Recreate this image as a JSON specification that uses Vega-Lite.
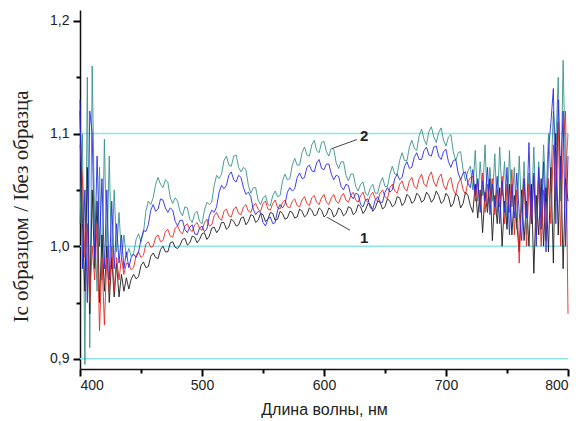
{
  "$schema": "https://vega.github.io/schema/vega-lite/v6.json",
  "autosize": {"type": "none"},
  "padding": {"left": 80, "top": 10, "right": 16, "bottom": 52},
  "width": 488,
  "height": 359,
  "background": "white",
  "config": {"view": {"stroke": null}},
  "datasets": {
    "spec": [
      {"x":400,"k":1.12,"r":1.09,"b":1.13,"g":1.02},
      {"x":402,"k":1.02,"r":1.06,"b":0.98,"g":1.10},
      {"x":404,"k":0.96,"r":0.99,"b":1.05,"g":0.895},
      {"x":406,"k":1.07,"r":1.02,"b":0.95,"g":1.15},
      {"x":408,"k":0.94,"r":0.95,"b":1.12,"g":0.91},
      {"x":410,"k":1.05,"r":1.00,"b":1.10,"g":1.16},
      {"x":412,"k":0.98,"r":0.97,"b":0.99,"g":1.02},
      {"x":414,"k":1.04,"r":1.02,"b":1.08,"g":0.96},
      {"x":416,"k":0.95,"r":0.925,"b":1.00,"g":1.07},
      {"x":418,"k":1.01,"r":0.99,"b":1.06,"g":0.97},
      {"x":420,"k":0.96,"r":0.93,"b":0.98,"g":1.095},
      {"x":422,"k":1.00,"r":0.99,"b":1.05,"g":0.99},
      {"x":424,"k":0.95,"r":0.96,"b":0.97,"g":1.08},
      {"x":426,"k":0.99,"r":1.00,"b":1.04,"g":0.98},
      {"x":428,"k":0.955,"r":0.96,"b":0.98,"g":1.05},
      {"x":430,"k":0.985,"r":0.99,"b":1.02,"g":0.995},
      {"x":432,"k":0.955,"r":0.97,"b":0.985,"g":1.03},
      {"x":434,"k":0.975,"r":0.99,"b":1.01,"g":0.99},
      {"x":436,"k":0.96,"r":0.975,"b":0.98,"g":1.01},
      {"x":438,"k":0.972,"r":0.985,"b":0.995,"g":0.99},
      {"x":440,"k":0.962,"r":0.984,"b":0.981,"g":0.998},
      {"x":442,"k":0.971,"r":0.979,"b":0.990,"g":0.991},
      {"x":444,"k":0.975,"r":0.981,"b":0.993,"g":0.994},
      {"x":446,"k":0.971,"r":0.992,"b":0.990,"g":1.006},
      {"x":448,"k":0.973,"r":0.995,"b":0.995,"g":1.011},
      {"x":450,"k":0.983,"r":0.990,"b":1.006,"g":1.004},
      {"x":452,"k":0.986,"r":0.992,"b":1.014,"g":1.012},
      {"x":454,"k":0.981,"r":1.002,"b":1.013,"g":1.031},
      {"x":456,"k":0.982,"r":1.004,"b":1.019,"g":1.040},
      {"x":458,"k":0.991,"r":0.999,"b":1.032,"g":1.037},
      {"x":460,"k":0.994,"r":1.000,"b":1.037,"g":1.043},
      {"x":462,"k":0.990,"r":1.008,"b":1.031,"g":1.055},
      {"x":464,"k":0.989,"r":1.010,"b":1.033,"g":1.061},
      {"x":466,"k":0.997,"r":1.004,"b":1.042,"g":1.055},
      {"x":468,"k":1.000,"r":1.005,"b":1.041,"g":1.052},
      {"x":470,"k":0.995,"r":1.013,"b":1.034,"g":1.059},
      {"x":472,"k":0.995,"r":1.015,"b":1.030,"g":1.057},
      {"x":474,"k":1.003,"r":1.009,"b":1.034,"g":1.043},
      {"x":476,"k":1.004,"r":1.008,"b":1.032,"g":1.038},
      {"x":478,"k":0.999,"r":1.016,"b":1.022,"g":1.043},
      {"x":480,"k":0.998,"r":1.018,"b":1.018,"g":1.040},
      {"x":482,"k":1.001,"r":1.013,"b":1.023,"g":1.031},
      {"x":484,"k":1.006,"r":1.011,"b":1.023,"g":1.027},
      {"x":486,"k":1.007,"r":1.018,"b":1.015,"g":1.035},
      {"x":488,"k":1.001,"r":1.020,"b":1.012,"g":1.034},
      {"x":490,"k":1.003,"r":1.015,"b":1.017,"g":1.024},
      {"x":492,"k":1.009,"r":1.013,"b":1.019,"g":1.021},
      {"x":494,"k":1.008,"r":1.019,"b":1.011,"g":1.029},
      {"x":496,"k":1.003,"r":1.021,"b":1.010,"g":1.031},
      {"x":498,"k":1.006,"r":1.016,"b":1.016,"g":1.022},
      {"x":500,"k":1.011,"r":1.014,"b":1.018,"g":1.020},
      {"x":502,"k":1.012,"r":1.021,"b":1.013,"g":1.032},
      {"x":504,"k":1.006,"r":1.024,"b":1.015,"g":1.039},
      {"x":506,"k":1.009,"r":1.018,"b":1.027,"g":1.037},
      {"x":508,"k":1.016,"r":1.019,"b":1.032,"g":1.039},
      {"x":510,"k":1.017,"r":1.027,"b":1.030,"g":1.054},
      {"x":512,"k":1.012,"r":1.030,"b":1.035,"g":1.063},
      {"x":514,"k":1.015,"r":1.025,"b":1.048,"g":1.060},
      {"x":516,"k":1.021,"r":1.023,"b":1.054,"g":1.064},
      {"x":518,"k":1.021,"r":1.031,"b":1.051,"g":1.076},
      {"x":520,"k":1.015,"r":1.033,"b":1.054,"g":1.080},
      {"x":522,"k":1.017,"r":1.027,"b":1.063,"g":1.072},
      {"x":524,"k":1.024,"r":1.026,"b":1.066,"g":1.071},
      {"x":526,"k":1.022,"r":1.033,"b":1.059,"g":1.080},
      {"x":528,"k":1.018,"r":1.035,"b":1.057,"g":1.081},
      {"x":530,"k":1.019,"r":1.029,"b":1.063,"g":1.070},
      {"x":532,"k":1.025,"r":1.028,"b":1.061,"g":1.066},
      {"x":534,"k":1.026,"r":1.035,"b":1.052,"g":1.070},
      {"x":536,"k":1.019,"r":1.037,"b":1.046,"g":1.068},
      {"x":538,"k":1.022,"r":1.031,"b":1.048,"g":1.054},
      {"x":540,"k":1.028,"r":1.030,"b":1.044,"g":1.047},
      {"x":542,"k":1.027,"r":1.036,"b":1.033,"g":1.052},
      {"x":544,"k":1.021,"r":1.038,"b":1.028,"g":1.052},
      {"x":546,"k":1.023,"r":1.033,"b":1.031,"g":1.041},
      {"x":548,"k":1.029,"r":1.031,"b":1.030,"g":1.037},
      {"x":550,"k":1.028,"r":1.038,"b":1.021,"g":1.043},
      {"x":552,"k":1.022,"r":1.040,"b":1.018,"g":1.045},
      {"x":554,"k":1.024,"r":1.033,"b":1.024,"g":1.037},
      {"x":556,"k":1.030,"r":1.032,"b":1.026,"g":1.036},
      {"x":558,"k":1.029,"r":1.038,"b":1.020,"g":1.045},
      {"x":560,"k":1.023,"r":1.041,"b":1.021,"g":1.049},
      {"x":562,"k":1.024,"r":1.034,"b":1.032,"g":1.044},
      {"x":564,"k":1.031,"r":1.033,"b":1.037,"g":1.045},
      {"x":566,"k":1.029,"r":1.039,"b":1.034,"g":1.058},
      {"x":568,"k":1.024,"r":1.041,"b":1.037,"g":1.064},
      {"x":570,"k":1.025,"r":1.035,"b":1.048,"g":1.059},
      {"x":572,"k":1.031,"r":1.034,"b":1.052,"g":1.060},
      {"x":574,"k":1.030,"r":1.040,"b":1.049,"g":1.072},
      {"x":576,"k":1.025,"r":1.042,"b":1.051,"g":1.078},
      {"x":578,"k":1.026,"r":1.036,"b":1.061,"g":1.072},
      {"x":580,"k":1.033,"r":1.035,"b":1.065,"g":1.072},
      {"x":582,"k":1.031,"r":1.041,"b":1.060,"g":1.083},
      {"x":584,"k":1.026,"r":1.044,"b":1.061,"g":1.088},
      {"x":586,"k":1.028,"r":1.038,"b":1.070,"g":1.081},
      {"x":588,"k":1.034,"r":1.036,"b":1.072,"g":1.080},
      {"x":590,"k":1.032,"r":1.043,"b":1.067,"g":1.090},
      {"x":592,"k":1.027,"r":1.045,"b":1.066,"g":1.094},
      {"x":594,"k":1.028,"r":1.039,"b":1.074,"g":1.085},
      {"x":596,"k":1.034,"r":1.037,"b":1.077,"g":1.083},
      {"x":598,"k":1.032,"r":1.043,"b":1.069,"g":1.092},
      {"x":600,"k":1.026,"r":1.046,"b":1.068,"g":1.093},
      {"x":602,"k":1.028,"r":1.039,"b":1.073,"g":1.084},
      {"x":604,"k":1.034,"r":1.037,"b":1.073,"g":1.080},
      {"x":606,"k":1.032,"r":1.043,"b":1.064,"g":1.087},
      {"x":608,"k":1.026,"r":1.046,"b":1.059,"g":1.086},
      {"x":610,"k":1.028,"r":1.040,"b":1.063,"g":1.074},
      {"x":612,"k":1.034,"r":1.038,"b":1.062,"g":1.069},
      {"x":614,"k":1.032,"r":1.044,"b":1.053,"g":1.075},
      {"x":616,"k":1.027,"r":1.047,"b":1.050,"g":1.075},
      {"x":618,"k":1.029,"r":1.041,"b":1.055,"g":1.063},
      {"x":620,"k":1.035,"r":1.039,"b":1.054,"g":1.058},
      {"x":622,"k":1.034,"r":1.045,"b":1.045,"g":1.064},
      {"x":624,"k":1.028,"r":1.048,"b":1.042,"g":1.064},
      {"x":626,"k":1.030,"r":1.041,"b":1.047,"g":1.053},
      {"x":628,"k":1.037,"r":1.039,"b":1.046,"g":1.049},
      {"x":630,"k":1.035,"r":1.045,"b":1.037,"g":1.055},
      {"x":632,"k":1.029,"r":1.048,"b":1.035,"g":1.057},
      {"x":634,"k":1.032,"r":1.041,"b":1.041,"g":1.047},
      {"x":636,"k":1.038,"r":1.039,"b":1.042,"g":1.045},
      {"x":638,"k":1.037,"r":1.045,"b":1.034,"g":1.052},
      {"x":640,"k":1.031,"r":1.048,"b":1.033,"g":1.055},
      {"x":642,"k":1.034,"r":1.042,"b":1.041,"g":1.047},
      {"x":644,"k":1.040,"r":1.040,"b":1.044,"g":1.047},
      {"x":646,"k":1.039,"r":1.047,"b":1.039,"g":1.056},
      {"x":648,"k":1.033,"r":1.050,"b":1.039,"g":1.061},
      {"x":650,"k":1.035,"r":1.044,"b":1.048,"g":1.053},
      {"x":652,"k":1.042,"r":1.042,"b":1.052,"g":1.053},
      {"x":654,"k":1.040,"r":1.052,"b":1.048,"g":1.064},
      {"x":656,"k":1.035,"r":1.055,"b":1.050,"g":1.071},
      {"x":658,"k":1.037,"r":1.049,"b":1.060,"g":1.064},
      {"x":660,"k":1.044,"r":1.047,"b":1.064,"g":1.064},
      {"x":662,"k":1.043,"r":1.055,"b":1.059,"g":1.076},
      {"x":664,"k":1.036,"r":1.058,"b":1.061,"g":1.083},
      {"x":666,"k":1.039,"r":1.051,"b":1.071,"g":1.076},
      {"x":668,"k":1.046,"r":1.049,"b":1.075,"g":1.076},
      {"x":670,"k":1.044,"r":1.058,"b":1.069,"g":1.088},
      {"x":672,"k":1.038,"r":1.061,"b":1.070,"g":1.094},
      {"x":674,"k":1.040,"r":1.053,"b":1.079,"g":1.087},
      {"x":676,"k":1.047,"r":1.051,"b":1.083,"g":1.085},
      {"x":678,"k":1.045,"r":1.060,"b":1.077,"g":1.098},
      {"x":680,"k":1.039,"r":1.064,"b":1.077,"g":1.104},
      {"x":682,"k":1.041,"r":1.055,"b":1.085,"g":1.095},
      {"x":684,"k":1.048,"r":1.053,"b":1.088,"g":1.090},
      {"x":686,"k":1.045,"r":1.062,"b":1.081,"g":1.102},
      {"x":688,"k":1.039,"r":1.066,"b":1.080,"g":1.106},
      {"x":690,"k":1.042,"r":1.057,"b":1.088,"g":1.097},
      {"x":692,"k":1.049,"r":1.053,"b":1.089,"g":1.092},
      {"x":694,"k":1.045,"r":1.061,"b":1.080,"g":1.101},
      {"x":696,"k":1.038,"r":1.064,"b":1.077,"g":1.105},
      {"x":698,"k":1.040,"r":1.054,"b":1.084,"g":1.094},
      {"x":700,"k":1.047,"r":1.050,"b":1.086,"g":1.089},
      {"x":702,"k":1.044,"r":1.058,"b":1.075,"g":1.097},
      {"x":704,"k":1.035,"r":1.061,"b":1.070,"g":1.099},
      {"x":706,"k":1.038,"r":1.050,"b":1.076,"g":1.084},
      {"x":708,"k":1.047,"r":1.046,"b":1.077,"g":1.076},
      {"x":710,"k":1.044,"r":1.056,"b":1.065,"g":1.083},
      {"x":712,"k":1.034,"r":1.060,"b":1.059,"g":1.084},
      {"x":714,"k":1.038,"r":1.050,"b":1.065,"g":1.068},
      {"x":716,"k":1.048,"r":1.046,"b":1.066,"g":1.058},
      {"x":718,"k":1.045,"r":1.057,"b":1.056,"g":1.067},
      {"x":720,"k":1.036,"r":1.061,"b":1.052,"g":1.071},
      {"x":722,"k":1.030,"r":1.062,"b":1.068,"g":1.050},
      {"x":724,"k":1.055,"r":1.040,"b":1.045,"g":1.085},
      {"x":726,"k":1.025,"r":1.058,"b":1.060,"g":1.040},
      {"x":728,"k":1.050,"r":1.035,"b":1.030,"g":1.075},
      {"x":730,"k":1.012,"r":1.065,"b":1.058,"g":1.045},
      {"x":732,"k":1.048,"r":1.030,"b":1.040,"g":1.090},
      {"x":734,"k":1.030,"r":1.055,"b":1.070,"g":1.035},
      {"x":736,"k":1.060,"r":1.038,"b":1.028,"g":1.070},
      {"x":738,"k":1.005,"r":1.060,"b":1.055,"g":1.040},
      {"x":740,"k":1.045,"r":1.028,"b":1.035,"g":1.082},
      {"x":742,"k":1.020,"r":1.050,"b":1.062,"g":1.030},
      {"x":744,"k":1.052,"r":1.035,"b":1.020,"g":1.088},
      {"x":746,"k":1.000,"r":1.062,"b":1.058,"g":1.045},
      {"x":748,"k":1.040,"r":1.020,"b":1.030,"g":1.075},
      {"x":750,"k":1.015,"r":1.055,"b":1.070,"g":1.020},
      {"x":752,"k":1.055,"r":1.030,"b":1.010,"g":1.085},
      {"x":754,"k":1.010,"r":1.068,"b":1.055,"g":1.035},
      {"x":756,"k":1.045,"r":1.010,"b":1.025,"g":1.070},
      {"x":758,"k":1.020,"r":1.050,"b":1.065,"g":1.015},
      {"x":760,"k":0.995,"r":0.985,"b":1.030,"g":1.080},
      {"x":762,"k":1.050,"r":1.040,"b":1.005,"g":1.030},
      {"x":764,"k":1.005,"r":1.060,"b":1.060,"g":1.075},
      {"x":766,"k":1.040,"r":1.000,"b":1.025,"g":1.010},
      {"x":768,"k":1.000,"r":1.055,"b":1.092,"g":1.065},
      {"x":770,"k":1.055,"r":1.020,"b":1.020,"g":1.030},
      {"x":772,"k":0.976,"r":1.062,"b":1.065,"g":1.088},
      {"x":774,"k":1.045,"r":1.010,"b":1.000,"g":1.020},
      {"x":776,"k":1.010,"r":1.058,"b":1.070,"g":1.075},
      {"x":778,"k":1.060,"r":1.000,"b":1.015,"g":1.025},
      {"x":780,"k":1.000,"r":1.050,"b":1.075,"g":1.090},
      {"x":782,"k":1.052,"r":1.005,"b":0.995,"g":1.040},
      {"x":784,"k":0.995,"r":1.060,"b":1.085,"g":1.100},
      {"x":786,"k":1.070,"r":1.020,"b":1.110,"g":1.060},
      {"x":788,"k":0.985,"r":1.090,"b":1.140,"g":1.120},
      {"x":790,"k":1.100,"r":1.040,"b":1.020,"g":1.090},
      {"x":792,"k":1.010,"r":1.110,"b":1.130,"g":1.150},
      {"x":794,"k":1.080,"r":1.000,"b":1.060,"g":1.040},
      {"x":796,"k":0.980,"r":1.090,"b":1.120,"g":1.165},
      {"x":798,"k":1.060,"r":1.120,"b":1.000,"g":1.060},
      {"x":800,"k":1.040,"r":0.940,"b":1.080,"g":1.100}
    ],
    "grid": [
      {"x":400,"x2":800,"y":0.9},
      {"x":400,"x2":800,"y":1.0},
      {"x":400,"x2":800,"y":1.1}
    ],
    "ptr": [
      {"x":627,"y":1.0947,"x2":606.6,"y2":1.0867},
      {"x":621.3,"y":1.0142,"x2":602.5,"y2":1.0257}
    ],
    "notes": [
      {"x":633,"y":1.098,"t":"2"},
      {"x":633,"y":1.007,"t":"1"}
    ]
  },
  "resolve": {"axis": {"x": "independent", "y": "independent"}},
  "layer": [
    {
      "data": {"name": "grid"},
      "mark": {"type": "rule", "color": "#8fe6ea", "strokeWidth": 1.5},
      "encoding": {
        "x": {"field": "x", "type": "quantitative", "scale": {"domain": [400, 800], "nice": false, "zero": false}, "axis": null},
        "x2": {"field": "x2"},
        "y": {"field": "y", "type": "quantitative", "scale": {"domain": [0.891, 1.2097], "nice": false, "zero": false}, "axis": null}
      }
    },
    {
      "data": {"name": "spec"},
      "transform": [{"fold": ["g", "k", "r", "b"], "as": ["s", "y"]}],
      "mark": {"type": "line", "strokeWidth": 1, "opacity": 0.9},
      "encoding": {
        "x": {
          "field": "x", "type": "quantitative",
          "scale": {"domain": [400, 800], "nice": false, "zero": false},
          "axis": {
            "orient": "bottom",
            "values": [400,500,600,700,800],
            "tickSize": 7,
            "tickColor": "black", "tickWidth": 2,
            "gridOpacity": 0,
            "domainColor": "#111", "domainWidth": 1.5,
            "labelFont": "Liberation Sans", "labelFontSize": 14, "labelColor": "#222",
            "labelPadding": 2,
            "title": "Длина волны, нм",
            "titleFont": "Liberation Sans", "titleFontSize": 16, "titleFontWeight": "normal",
            "titleColor": "#222", "titleY": 32, "titleBaseline": "top"
          }
        },
        "y": {
          "field": "y", "type": "quantitative",
          "scale": {"domain": [0.891, 1.2097], "nice": false, "zero": false},
          "axis": {
            "orient": "left",
            "values": [0.9,1.0,1.1,1.2],
            "labelExpr": "replace(format(datum.value, '.1f'), '.', ',')",
            "tickSize": 7,
            "tickColor": "black", "tickWidth": 2,
            "gridOpacity": 0,
            "domainColor": "#111", "domainWidth": 1.5,
            "labelFont": "Liberation Sans", "labelFontSize": 14, "labelColor": "#222",
            "labelPadding": 4,
            "title": "Iс образцом / Iбез образца",
            "titleFont": "Liberation Serif", "titleFontSize": 21, "titleFontWeight": "normal",
            "titleColor": "#222", "titleX": -49, "titleY": 196, "titleBaseline": "bottom"
          }
        },
        "color": {
          "field": "s", "type": "nominal",
          "scale": {"domain": ["g", "k", "r", "b"], "range": ["#3a928d", "#1e1e1e", "#e62a22", "#2b2be6"]},
          "legend": null
        }
      }
    },
    {
      "data": {"name": "ptr"},
      "mark": {"type": "rule", "color": "#444", "strokeWidth": 1},
      "encoding": {
        "x": {"field": "x", "type": "quantitative", "axis": null},
        "x2": {"field": "x2"},
        "y": {"field": "y", "type": "quantitative", "axis": null},
        "y2": {"field": "y2"}
      }
    },
    {
      "data": {"name": "notes"},
      "mark": {"type": "text", "font": "Liberation Sans", "fontSize": 15, "color": "#222", "fontWeight": "bold"},
      "encoding": {
        "x": {
          "field": "x", "type": "quantitative",
          "axis": {"orient": "bottom", "values": [450,550,650,750], "tickSize": 4, "tickColor": "black", "tickWidth": 2, "labels": false, "domain": false, "gridOpacity": 0, "title": null}
        },
        "y": {
          "field": "y", "type": "quantitative",
          "axis": {"orient": "left", "values": [0.95,1.05,1.15], "tickSize": 4, "tickColor": "black", "tickWidth": 2, "labels": false, "domain": false, "gridOpacity": 0, "title": null}
        },
        "text": {"field": "t"}
      }
    }
  ]
}
